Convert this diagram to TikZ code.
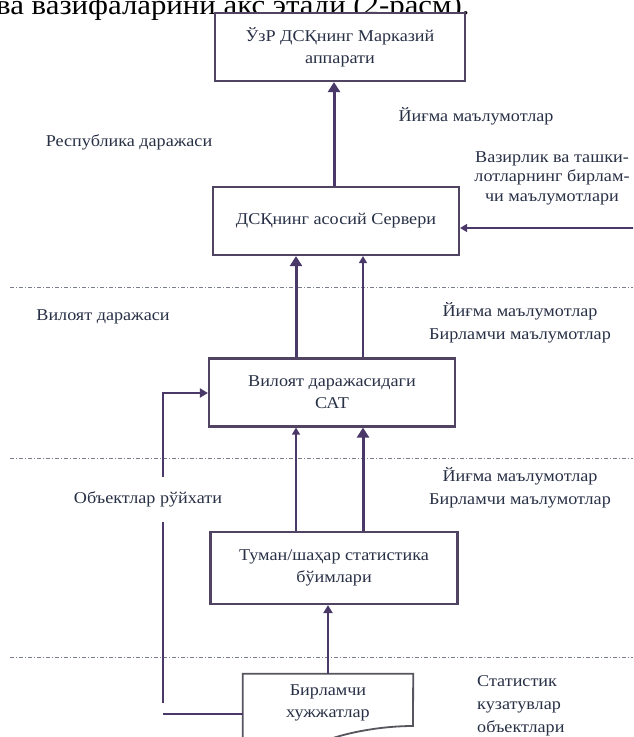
\documentclass[tikz,border=0pt]{standalone}
\usepackage{fontspec}
\setmainfont[FakeStretch=1.1]{Liberation Serif}
\usetikzlibrary{arrows.meta}
\definecolor{boxc}{RGB}{80,68,98}
\definecolor{arrc}{RGB}{74,56,104}
\definecolor{txtc}{RGB}{40,48,70}
\definecolor{dashc}{RGB}{120,126,142}
\definecolor{docc}{RGB}{86,86,94}
\begin{document}
\begin{tikzpicture}[x=1pt,y=-1pt,
  box/.style={draw=boxc, line width=2.2pt, fill=white, text=txtc, align=center,
    font=\fontsize{16.5}{22}\selectfont, inner sep=0pt},
  lbl/.style={text=txtc, align=center, inner sep=0pt,
    font=\fontsize{16.5}{23}\selectfont},
  thk/.style={draw=arrc, line width=3pt, -{Triangle[length=10pt,width=12pt]}},
  thn/.style={draw=arrc, line width=1.5pt, -{Triangle[length=7pt,width=8pt]}},
  mid/.style={draw=arrc, line width=2.2pt, -{Triangle[length=8pt,width=9pt]}},
  sepline/.style={draw=dashc, line width=0.8pt, dash pattern=on 4pt off 2pt on 1pt off 2pt}]
\useasboundingbox (0,0) rectangle (633,737);
\clip (0,0) rectangle (633,737);
\fill[white] (0,0) rectangle (633,737);

% cut-off text at top
\node[anchor=base west, inner sep=0pt, font=\fontsize{28}{28}\selectfont] (head) at (-4,14) {ва вазифаларини акс этади (2-расм).};

% separators
\coordinate (s1a) at (10,287); \coordinate (s1b) at (633,287);
\coordinate (s2a) at (10,458); \coordinate (s2b) at (633,458);
\coordinate (s3a) at (10,657); \coordinate (s3b) at (633,657);
\draw[sepline] (s1a) -- (s1b);
\draw[sepline] (s2a) -- (s2b);
\draw[sepline] (s3a) -- (s3b);

% boxes
\node[box, minimum width=250pt, minimum height=68pt] (top) at (340,47) {ЎзР ДСҚнинг Марказий\\аппарати};
\node[box, minimum width=246pt, minimum height=68pt] (srv) at (336,221) {ДСҚнинг асосий Сервери};
\node[box, minimum width=246pt, minimum height=68pt] (cat) at (332,392.5) {Вилоят даражасидаги\\САТ};
\node[box, minimum width=247pt, minimum height=72pt] (tum) at (334,568) {Туман/шаҳар статистика\\бўимлари};

% document shape
\node[minimum width=170pt, minimum height=58pt, inner sep=0pt] (doc) at (328,703) {};
\draw[draw=docc, line width=1.8pt, fill=white]
  (doc.west |- 0,760) -- (doc.north west) -- (doc.north east) -- (413,726)
  .. controls (385,726) and (355,731) .. (333,738)
  .. controls (300,747) and (270,750) .. (243,748);
\node[lbl, font=\fontsize{16.5}{22}\selectfont] (doctext) at (doc) {Бирламчи\\хужжатлар};

% labels
\node[lbl] (l1) at (476,116) {Йиғма маълумотлар};
\node[lbl] (l2) at (129,142) {Республика даражаси};
\node[lbl, font=\fontsize{16.5}{19.5}\selectfont] (l3) at (552,178) {Вазирлик ва ташки-\\лотларнинг бирлам-\\чи маълумотлари};
\node[lbl] (l4) at (103,317) {Вилоят даражаси};
\node[lbl] (l5) at (520,323) {Йиғма маълумотлар\\Бирламчи маълумотлар};
\node[lbl] (l6) at (148,499) {Объектлар рўйхати};
\node[lbl] (l7) at (520,488) {Йиғма маълумотлар\\Бирламчи маълумотлар};
\node[lbl, align=left, anchor=west] (l8) at (477,706) {Статистик\\кузатувлар\\объектлари};

% columns
\coordinate (cA) at (296,0);
\coordinate (cB) at (363,0);
\coordinate (cM) at (334,0);
\coordinate (cD) at (328,0);

% arrows
\draw[thk] (srv.north -| cM) -- (top.south -| cM);
\draw[thk] (cat.north -| cA) -- (srv.south -| cA);
\draw[thn] (cat.north -| cB) -- (srv.south -| cB);
\draw[thn] (tum.north -| cA) -- (cat.south -| cA);
\draw[thk] (tum.north -| cB) -- (cat.south -| cB);
\draw[mid] (doc.north -| cD) -- (tum.south -| cD);

\coordinate (rin) at (640,228);
\draw[thn] (rin) -- (srv.east |- rin);

% feedback line
\coordinate (f1) at (163,714);
\coordinate (f2) at (163,703);
\coordinate (f3) at (163,522);
\coordinate (f4) at (163,477);
\coordinate (f5) at (163,393);
\draw[draw=arrc, line width=2.4pt] (doc.west |- f1) -- (f1);
\draw[draw=arrc, line width=2.4pt] (f2) -- (f3);
\draw[mid, line width=2.4pt] (f4) -- (f5) -- (cat.west |- f5);
\end{tikzpicture}
\end{document}
